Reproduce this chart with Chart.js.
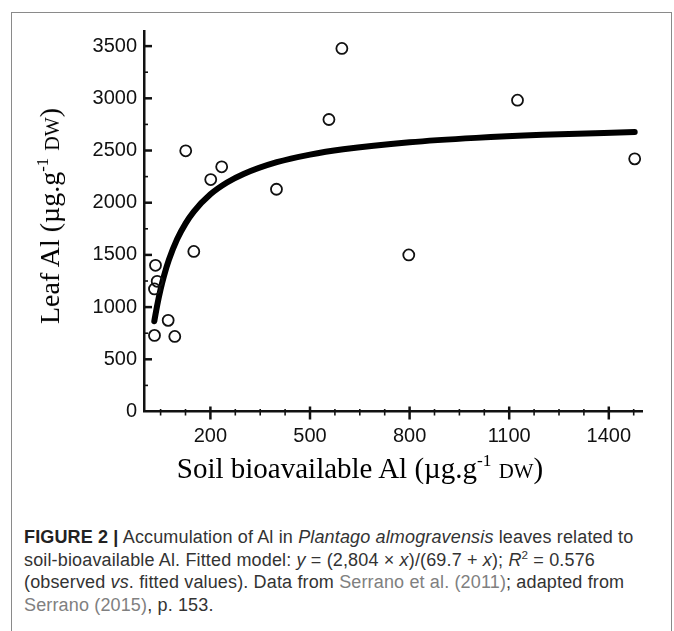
<!DOCTYPE html>
<html>
<head>
<meta charset="utf-8">
<script src="https://cdn.jsdelivr.net/npm/chart.js@4.4.1/dist/chart.umd.min.js"></script>
<style>
  body { margin: 0; width: 674px; height: 631px; overflow: hidden; background: #fff; position: relative; }
  #frame { position: absolute; left: 11px; top: 12px; width: 659px; height: 700px; border: 1.5px solid #8a8a8a; }
  #plot { position: absolute; left: 0; top: 0; }
  .axt { position: absolute; font-family: "Liberation Serif", "Times New Roman", serif; font-size: 28px; color: #000; white-space: nowrap; line-height: 1; }
  .axt sup { font-size: 0.6em; vertical-align: 0.65em; line-height: 0; }
  .axt .sc { font-size: 0.72em; }
  #ytitle { left: 50px; top: 216px; transform: translate(-50%, -50%) rotate(-90deg); }
  #xtitle { left: 360px; top: 468px; font-size: 29px; transform: translate(-50%, -50%); }
  #caption { position: absolute; left: 24px; top: 526px; width: 645px; font-family: "Liberation Sans", Arial, sans-serif; font-size: 18px; letter-spacing: 0.15px; line-height: 22.5px; color: #333; white-space: nowrap; }
  #caption b { color: #222; }
  #caption .ref { color: #808080; }
</style>
</head>
<body>
<div id="frame"></div>
<canvas id="plot" width="674" height="480"></canvas>
<div class="axt" id="ytitle">Leaf Al (µg.g<sup>-1</sup> <span class="sc">DW</span>)</div>
<div class="axt" id="xtitle">Soil bioavailable Al (µg.g<sup>-1</sup> <span class="sc">DW</span>)</div>
<div id="caption">
  <b>FIGURE 2 |</b> Accumulation of Al in <i>Plantago almogravensis</i> leaves related to<br>
  soil-bioavailable Al. Fitted model: <i>y</i> = (2,804 × <i>x</i>)/(69.7 + <i>x</i>); <i>R</i><sup style="font-size:0.65em;line-height:0">2</sup> = 0.576<br>
  (observed <i>vs</i>. fitted values). Data from <span class="ref">Serrano et al. (2011)</span>; adapted from<br>
  <span class="ref">Serrano (2015)</span>, p. 153.
</div>
<script>
// observed points
const soilAl = [31.6, 31.6, 34.6, 39.7, 72.8, 92.7, 125.7, 150, 201, 234, 399, 557, 596, 797.5, 1125, 1478];
const leafAl = [729, 1174, 1400, 1247, 873, 719, 2497, 1533, 2222, 2344, 2129, 2797, 3478, 1500, 2982, 2420];

// fitted curve
const fitX = [31, 40, 50, 60, 75, 100, 125, 150, 200, 250, 300, 400, 500, 600, 800, 1000, 1200, 1478];
const fitY = [865, 1022, 1171, 1297, 1453, 1652, 1800, 1915, 2080, 2193, 2275, 2388, 2461, 2512, 2579, 2621, 2650, 2677];

// axis ticks
const xTicks = [50, 125, 200, 275, 350, 425, 500, 575, 650, 725, 800, 875, 950, 1025, 1100, 1175, 1250, 1325, 1400, 1475];
const xLabels = [200, 500, 800, 1100, 1400];
const yTicks = [250, 500, 750, 1000, 1250, 1500, 1750, 2000, 2250, 2500, 2750, 3000, 3250, 3500];
const yLabels = [0, 500, 1000, 1500, 2000, 2500, 3000, 3500];

const tickFont = { family: '"Liberation Sans", Arial, sans-serif', size: 20 };

// tick marks: x ticks cross the axis, y ticks point into the plot
const tickMarks = {
  id: 'tickMarks',
  afterDraw(chart) {
    const { ctx, scales: { x, y } } = chart;
    ctx.save();
    ctx.strokeStyle = '#111';
    xTicks.forEach(v => {
      const px = x.getPixelForValue(v);
      const major = xLabels.includes(v);
      ctx.lineWidth = major ? 2.5 : 1.6;
      ctx.beginPath();
      ctx.moveTo(px, y.bottom - (major ? 5 : 2.5));
      ctx.lineTo(px, y.bottom + (major ? 8 : 4));
      ctx.stroke();
    });
    yTicks.forEach(v => {
      const py = y.getPixelForValue(v);
      const major = yLabels.includes(v);
      ctx.lineWidth = major ? 2.5 : 1.6;
      ctx.beginPath();
      ctx.moveTo(x.left, py);
      ctx.lineTo(x.left + (major ? 8 : 4), py);
      ctx.stroke();
    });
    ctx.restore();
  }
};

new Chart(document.getElementById('plot'), {
  type: 'scatter',
  data: {
    datasets: [
      {
        label: 'observed',
        data: soilAl.map((v, i) => ({ x: v, y: leafAl[i] })),
        pointRadius: 5.5,
        pointBorderWidth: 1.8,
        pointBorderColor: '#111',
        pointBackgroundColor: 'rgba(255,255,255,0)'
      },
      {
        label: 'fit',
        data: fitX.map((v, i) => ({ x: v, y: fitY[i] })),
        showLine: true,
        borderColor: '#000',
        borderWidth: 6,
        borderCapStyle: 'round',
        cubicInterpolationMode: 'monotone',
        pointRadius: 0
      }
    ]
  },
  options: {
    responsive: false,
    animation: false,
    layout: { padding: { left: 0, right: 32, top: 31.5, bottom: 0 } },
    plugins: { legend: { display: false }, tooltip: { enabled: false } },
    scales: {
      x: {
        type: 'linear',
        min: 0,
        max: 1500,
        afterBuildTicks: s => { s.ticks = xLabels.map(v => ({ value: v })); },
        afterFit: s => { s.height = 68.5; },
        grid: { display: true, drawOnChartArea: false, drawTicks: false },
        border: { display: true, color: '#111', width: 2.5 },
        ticks: { font: tickFont, color: '#111', padding: 13, maxRotation: 0, callback: v => String(v) }
      },
      y: {
        min: 0,
        max: 3640,
        afterBuildTicks: s => { s.ticks = yLabels.map(v => ({ value: v })); },
        afterFit: s => { s.width = 144; },
        grid: { display: true, drawOnChartArea: false, drawTicks: false },
        border: { display: true, color: '#111', width: 2.5 },
        ticks: { font: tickFont, color: '#111', padding: 7, callback: v => String(v) }
      }
    }
  },
  plugins: [tickMarks]
});
</script>
</body>
</html>
